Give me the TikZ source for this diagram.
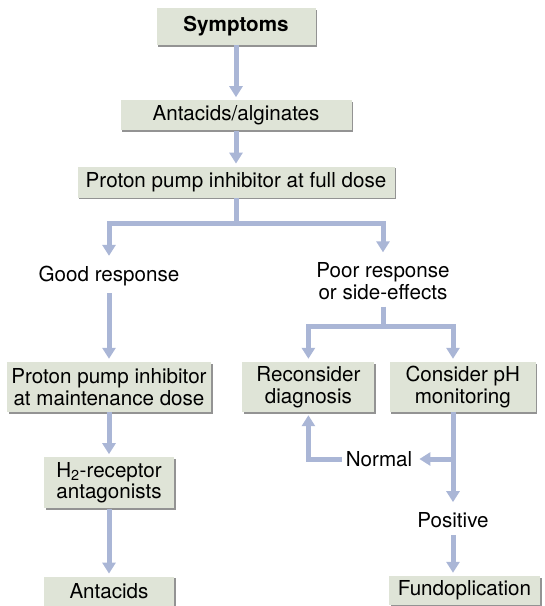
\documentclass[tikz,border=0pt]{standalone}
\usepackage{fontspec}
\setmainfont{TeX Gyre Heros}
\usepackage{tikz}
\usetikzlibrary{arrows.meta,positioning,calc,shadows}

\definecolor{boxfill}{RGB}{223,228,215}
\definecolor{arrblue}{RGB}{170,182,214}

\begin{document}
\begin{tikzpicture}[
    x=1pt, y=-1pt,
    font=\fontsize{20.6}{21.6}\selectfont,
    box/.style={rectangle, fill=boxfill, inner sep=2pt, align=center,
                drop shadow={shadow xshift=1.6pt, shadow yshift=-1.6pt,
                             fill=gray!85, opacity=1}},
    lbl/.style={inner sep=7pt, align=center},
    arr/.style={-{Triangle[width=13pt,length=11pt]}, line width=5pt,
                draw=arrblue, shorten >=3pt},
]
\useasboundingbox (0,0) rectangle (545,606);

% Main trunk
\node[box, minimum width=159pt, minimum height=37pt] (symp) at (236,26.5)
    {\bfseries Symptoms};
\node[box, minimum width=231pt, minimum height=30pt, below=55pt of symp] (alg)
    {Antacids/alginates};
\node[box, minimum width=317pt, minimum height=31pt, below=36pt of alg] (ppi)
    {Proton pump inhibitor at full dose};

% Responses
\node[lbl] (good) at (109,276) {Good response};
\node[lbl] (poor) at (383,281) {Poor response\\or side-effects};

% Second row
\node[box, minimum width=204pt, minimum height=50pt] (maint) at (109,387)
    {Proton pump inhibitor\\at maintenance dose};
\node[box, minimum width=132pt, minimum height=50pt, right=31pt of maint] (recon)
    {Reconsider\\diagnosis};
\node[box, minimum width=146pt, minimum height=50pt, right=15pt of recon] (phmon)
    {Consider pH\\monitoring};

% Left column
\node[box, minimum width=130pt, minimum height=51pt, below=45pt of maint] (htwo)
    {H\textsubscript{2}-receptor\\antagonists};
\node[box, minimum width=130pt, minimum height=29pt, below=68pt of htwo] (antac)
    {Antacids};

% Right column
\node[lbl, inner xsep=4pt] (normal) at (379,459) {Normal};
\node[lbl] (positive) at (453,520) {Positive};
\node[box, minimum width=151pt, minimum height=29pt] (fundo) at (464.5,590.5)
    {Fundoplication};

% Arrows
\draw[arr] (symp) -- (alg);
\draw[arr] (alg) -- (ppi);
\draw[arr] (ppi.south) -- ++(0,25) -| (good.north);
\draw[arr] ($(ppi.south)+(0,25)$) -| (poor.north);
\draw[arr] (good) -- (maint);
\draw[arr] (poor.south) -- ++(0,20) -| (recon.north);
\draw[arr] ($(poor.south)+(0,20)$) -| (phmon.north -| positive);
\draw[arr] (maint) -- (htwo);
\draw[arr] (htwo) -- (antac);
\draw[arr] (phmon.south -| positive) -- (positive.north);
\draw[arr] (normal -| positive) -- (normal.east);
\draw[arr] (normal.west) -| (recon.south);
\draw[arr] (positive.south) -- (positive.south |- fundo.north);

\end{tikzpicture}
\end{document}
